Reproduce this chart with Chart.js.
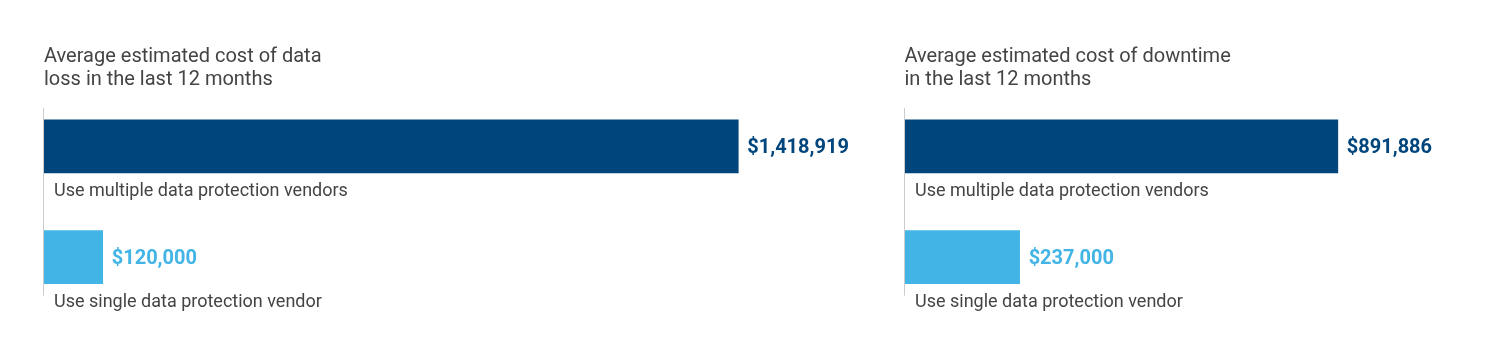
<!DOCTYPE html>
<html>
<head>
<meta charset="utf-8">
<script src="https://cdn.jsdelivr.net/npm/chart.js@4.4.1/dist/chart.umd.min.js"></script>
<style>
  html, body { margin: 0; padding: 0; background: #ffffff; }
  body { width: 1488px; height: 357px; position: relative; overflow: hidden; }
  canvas { position: absolute; top: 0; }
  #c1 { left: 0; }
  #c2 { left: 861px; }
</style>
</head>
<body>
<canvas id="c1" width="861" height="357"></canvas>
<canvas id="c2" width="627" height="357"></canvas>
<script>
const categories = ['Use multiple data protection vendors', 'Use single data protection vendor'];
const dataLossTitle = ['Average estimated cost of data', 'loss in the last 12 months'];
const downtimeTitle = ['Average estimated cost of downtime', 'in the last 12 months'];
const dataLossValues = [1418919, 120000];
const downtimeValues = [891886, 237000];
const barColors = ['#00457c', '#42b4e6'];

const FONT = 'Roboto, "Noto Sans", Arial, sans-serif';
const TEXT = '#444444';

function fmt(v) { return '$' + v.toLocaleString('en-US'); }

const annotate = {
  id: 'annotate',
  afterDatasetsDraw(chart) {
    const ctx = chart.ctx;
    const meta = chart.getDatasetMeta(0);
    const xs = chart.scales.x;
    const axisX = Math.round(xs.getPixelForValue(0)) - 0.5;
    const bars = meta.data;
    const topBar = bars[0], lastBar = bars[bars.length - 1];
    ctx.save();
    // axis line
    ctx.strokeStyle = '#cccccc';
    ctx.lineWidth = 1;
    ctx.beginPath();
    ctx.moveTo(axisX, topBar.y - topBar.height / 2 - 12);
    ctx.lineTo(axisX, lastBar.y + lastBar.height / 2 + 12);
    ctx.stroke();
    const ds = chart.data.datasets[0];
    bars.forEach((bar, i) => {
      // value label
      ctx.font = 'bold 20px ' + FONT;
      ctx.fillStyle = barColors[i];
      ctx.textAlign = 'left';
      ctx.textBaseline = 'middle';
      ctx.fillText(fmt(ds.data[i]), bar.x + 9, bar.y + 2);
      // category label under bar
      ctx.font = '18px ' + FONT;
      ctx.fillStyle = TEXT;
      ctx.textBaseline = 'alphabetic';
      ctx.fillText(chart.data.labels[i], axisX + 10.5, bar.y + bar.height / 2 + 23.5);
    });
    ctx.restore();
  }
};

function makeChart(id, title, values, xMax, padLeft, padRight) {
  return new Chart(document.getElementById(id), {
    type: 'bar',
    data: {
      labels: categories,
      datasets: [{
        data: values,
        backgroundColor: barColors,
        borderWidth: 0,
        barThickness: 53
      }]
    },
    options: {
      indexAxis: 'y',
      responsive: false,
      animation: false,
      devicePixelRatio: 1,
      layout: { padding: { left: padLeft, right: padRight, top: 0, bottom: 44.5 } },
      plugins: {
        legend: { display: false },
        tooltip: { enabled: false },
        title: {
          display: true,
          text: title,
          align: 'start',
          color: TEXT,
          font: { family: FONT, size: 20, weight: 'normal', lineHeight: 1.15 },
          padding: { top: 45, bottom: 0 }
        }
      },
      scales: {
        x: {
          display: false,
          min: 0,
          max: xMax
        },
        y: {
          display: false
        }
      }
    },
    plugins: [annotate]
  });
}

makeChart('c1', dataLossTitle, dataLossValues, 1635000, 44, 17);
makeChart('c2', downtimeTitle, downtimeValues, 1166000, 43.5, 17);
</script>
</body>
</html>
